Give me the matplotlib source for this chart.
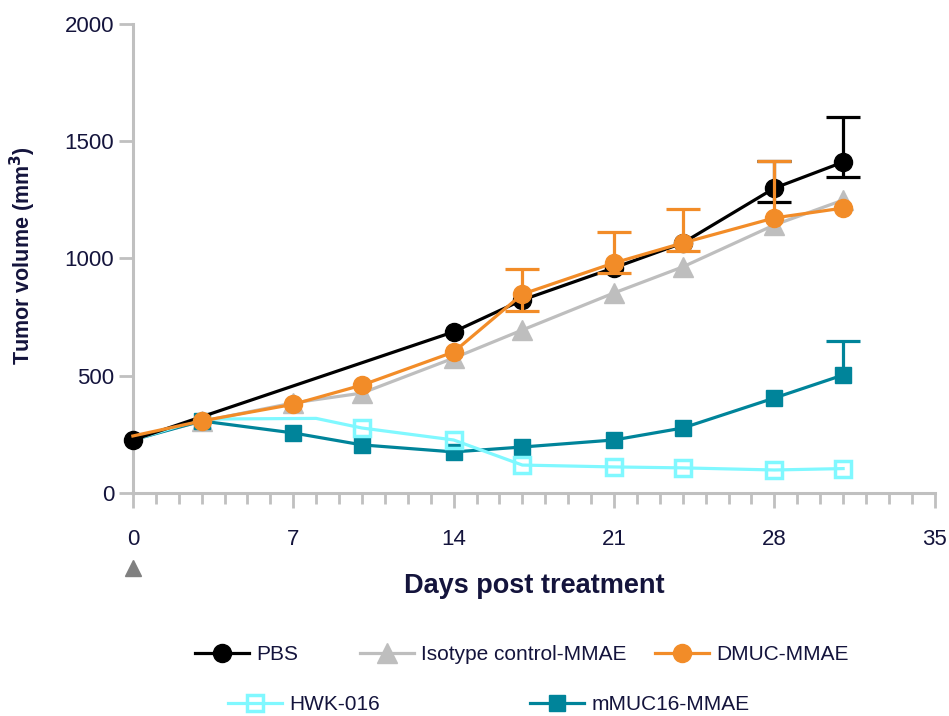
import numpy as np
import matplotlib.pyplot as plt
import matplotlib.transforms as mtransforms
from matplotlib.ticker import MultipleLocator

plt.rcParams['font.family'] = ['Liberation Sans', 'DejaVu Sans']

nan = np.nan
navy = '#14143c'

# data
days_pbs = [0, 14, 17, 21, 24, 28, 31]
pbs = [226, 687, 823, 960, 1066, 1300, 1411]
pbs_lo = [nan, nan, nan, nan, nan, 58, 64]
pbs_hi = [nan, nan, nan, nan, nan, 116, 192]

days = [0, 3, 7, 10, 14, 17, 21, 24, 28, 31]
iso = [232, 305, 384, 426, 575, 695, 853, 964, 1143, 1249]
dmuc = [243, 307, 378, 460, 601, 848, 981, 1066, 1173, 1215]
dmuc_lo = [nan, nan, nan, nan, nan, 72, 42, 33, 0, nan]   # 0 = lower cap hidden
dmuc_hi = [nan, nan, nan, nan, nan, 108, 132, 145, 243, nan]

days_hwk = [0, 3, 8, 10, 14, 17, 21, 24, 28, 31]
hwk = [226, 315, 318, 277, 226, 119, 111, 107, 98, 104]

mmuc = [226, 307, 256, 205, 175, 196, 226, 277, 405, 503]
mmuc_lo = [nan] * 9 + [0]
mmuc_hi = [nan] * 9 + [145]

fig = plt.figure(figsize=(9.49, 7.16), dpi=100)
ax = fig.add_axes([0.140, 0.3115, 0.845, 0.655])

lw = 2.3
cap = 12
no_first = list(range(1, 10))


def err_series(x, y, lo, hi, **kw):
    eb = ax.errorbar(x, y, yerr=[lo, hi], capsize=cap, capthick=lw, elinewidth=lw,
                     lw=lw, clip_on=False, **kw)
    # drop the caps that sit on the point itself (one-sided bars)
    for cl in eb[1]:
        yd = np.asarray(cl.get_ydata(), dtype=float)
        yd[np.isclose(yd, np.asarray(y, dtype=float))] = nan
        cl.set_ydata(yd)
    return eb[0]


h_pbs = err_series(days_pbs, pbs, pbs_lo, pbs_hi, color='black', marker='o', ms=13,
                   zorder=5)
h_iso, = ax.plot(days, iso, color='#bebebe', lw=lw, marker='^', ms=14,
                 markevery=no_first, clip_on=False, zorder=2)
h_dmuc = err_series(days, dmuc, dmuc_lo, dmuc_hi, color='#f28c28', marker='o', ms=13,
                    markevery=no_first, zorder=6)
h_hwk, = ax.plot(days_hwk, hwk, color='#80f8ff', lw=lw, marker='s', ms=12,
                 mfc='none', mew=2.5, markevery=[3, 4, 5, 6, 7, 8, 9],
                 clip_on=False, zorder=4)
h_mmuc = err_series(days, mmuc, mmuc_lo, mmuc_hi, color='#00849a', marker='s', ms=12,
                    markevery=no_first, zorder=3)

ax.set_xlim(0, 35)
ax.set_ylim(0, 2000)
ax.xaxis.set_major_locator(MultipleLocator(7))
ax.xaxis.set_minor_locator(MultipleLocator(1))
ax.yaxis.set_major_locator(MultipleLocator(500))

for s in ['top', 'right']:
    ax.spines[s].set_visible(False)
for s in ['left', 'bottom']:
    ax.spines[s].set_color('#c0c0c0')
    ax.spines[s].set_linewidth(2.2)
ax.tick_params(axis='both', which='major', colors='#c0c0c0', width=2, length=10,
               labelcolor=navy, labelsize=16)
ax.tick_params(axis='x', which='major', length=11, pad=15)
ax.tick_params(axis='x', which='minor', colors='#c0c0c0', width=2, length=8)

ax.set_ylabel('Tumor volume (mm$^\\mathbf{3}$)', fontsize=15.5, fontweight='bold', color=navy)
ax.yaxis.set_label_coords(-0.118, 0.507)
ax.set_xlabel('Days post treatment', fontsize=19.5, fontweight='bold', color=navy)
ax.xaxis.set_label_coords(0.5, -0.17)

# treatment marker under day 0
trans = mtransforms.blended_transform_factory(ax.transData, ax.transAxes)
ax.plot([0], [-0.16], marker='^', color='#808080', ms=12, transform=trans, clip_on=False)

# legend entries placed one by one (x = left end of handle, y = row centre, pixels)
entries = [(h_pbs, 'PBS', 195, 655), (h_iso, 'Isotype control-MMAE', 360, 655),
           (h_dmuc, 'DMUC-MMAE', 655, 655), (h_hwk, 'HWK-016', 228, 705),
           (h_mmuc, 'mMUC16-MMAE', 530, 705)]
for h, lab, px, py in entries:
    fig.legend([h], [lab], loc='center left', bbox_to_anchor=(px / 949, 1 - py / 716),
               frameon=False, fontsize=15, handlelength=2.6, handletextpad=0.35,
               borderpad=0, borderaxespad=0, labelcolor=navy, markerscale=1.0)

fig.savefig('out.png', dpi=100)
